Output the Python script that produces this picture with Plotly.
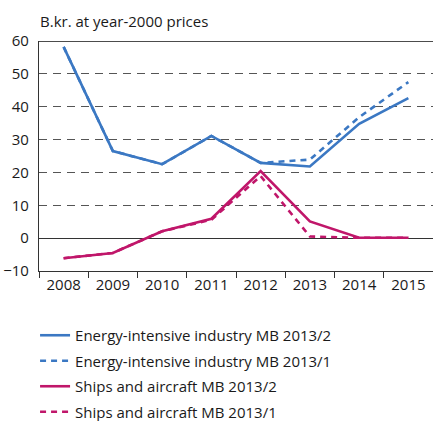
import plotly.graph_objects as go

# Years on the category axis
years = ["2008", "2009", "2010", "2011", "2012", "2013", "2014", "2015"]

# Investment, billion kroner at year-2000 prices
energy_mb2013_2 = [58.2, 26.5, 22.5, 31.1, 22.9, 21.8, 34.8, 42.6]
energy_mb2013_1 = [58.2, 26.5, 22.5, 31.1, 22.9, 23.9, 36.8, 47.5]
ships_mb2013_2 = [-6.1, -4.5, 2.1, 5.9, 20.4, 5.1, 0.1, 0.1]
ships_mb2013_1 = [-6.1, -4.5, 2.1, 5.6, 18.9, 0.5, 0.1, 0.1]

y_ticks = [-10, 0, 10, 20, 30, 40, 50, 60]

BLUE = "#3b78c3"
MAGENTA = "#c0166a"
FONT = "Open Sans"

series = [
    ("Energy-intensive industry MB 2013/2", energy_mb2013_2, BLUE, "solid"),
    ("Energy-intensive industry MB 2013/1", energy_mb2013_1, BLUE, "dash"),
    ("Ships and aircraft MB 2013/2", ships_mb2013_2, MAGENTA, "solid"),
    ("Ships and aircraft MB 2013/1", ships_mb2013_1, MAGENTA, "dash"),
]

fig = go.Figure()
# draw dashed forecasts beneath the solid ones
for i in [1, 0, 3, 2]:
    name, vals, color, dash = series[i]
    fig.add_trace(go.Scatter(
        x=years, y=vals, mode="lines", name=name,
        line=dict(color=color, width=2.6, dash="6px,5px" if dash == "dash" else "solid"),
        legendrank=i + 1, legendgroup=f"g{i}",
    ))

fig.update_layout(
    width=433, height=421,
    margin=dict(l=39, r=0, t=41, b=150),
    paper_bgcolor="white", plot_bgcolor="white",
    font=dict(family=FONT, size=14, color="#1a1a1a"),
    showlegend=True,
    legend=dict(
        x=-0.01, xanchor="left",
        yref="container", y=0.2423, yanchor="top",
        font=dict(family=FONT, size=15, color="#1a1a1a"),
        tracegroupgap=3, traceorder="grouped",
        bgcolor="rgba(0,0,0,0)",
    ),
    xaxis=dict(
        type="category", range=[-0.5, 7.5],
        showgrid=False, showline=True, linecolor="#333", linewidth=1.2,
        ticks="outside", tickson="boundaries", ticklen=6, tickcolor="#333",
        tickfont=dict(size=15), fixedrange=True,
    ),
    yaxis=dict(
        range=[-10, 60], tickvals=y_ticks,
        showgrid=True, gridcolor="#555", gridwidth=1, griddash="8px,6px",
        zeroline=True, zerolinecolor="#333", zerolinewidth=1.2,
        showline=True, linecolor="#333", linewidth=1.2,
        ticks="", ticklabelstandoff=6, tickfont=dict(size=15),
        fixedrange=True,
    ),
    shapes=[dict(type="line", xref="paper", yref="y", x0=0, x1=1, y0=60, y1=60,
                 line=dict(color="#111", width=1.5))],
    annotations=[dict(text="B.kr. at year-2000 prices", xref="paper", yref="paper",
                      x=-0.003, y=1.0, yshift=20, xanchor="left", yanchor="middle",
                      showarrow=False, font=dict(family=FONT, size=15, color="#1a1a1a"))],
)

fig.write_html("out.html")
